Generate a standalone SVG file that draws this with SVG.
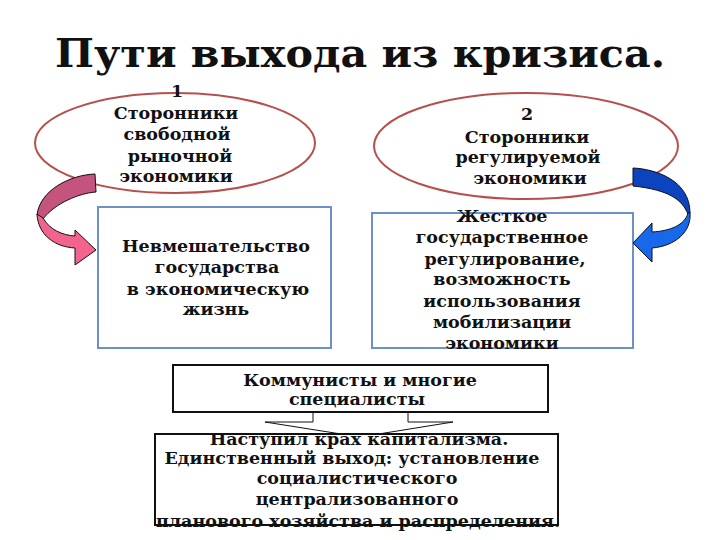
<svg xmlns="http://www.w3.org/2000/svg" width="720" height="540" viewBox="0 0 720 540">
<style>
text{font-family:"DejaVu Serif","Liberation Serif",serif;font-weight:bold;fill:#111;text-anchor:middle}
.t{font-size:17.5px}
.ell{fill:#fff;stroke:#b5504e;stroke-width:2}
.blu{fill:#fff;stroke:#6f8fc8;stroke-width:2}
.blk{fill:#fff;stroke:#111;stroke-width:2}
.arr{stroke:#111;stroke-width:1;stroke-linejoin:round}
</style>
<rect width="720" height="540" fill="#fff"/>
<text x="360" y="67" font-size="39" textLength="610" lengthAdjust="spacingAndGlyphs">Пути выхода из кризиса.</text>

<g id="node-free">
<ellipse class="ell" cx="175" cy="143" rx="140" ry="50"/>
</g>
<g id="node-reg">
<ellipse class="ell" cx="526" cy="146" rx="152" ry="53"/>
</g>
<g id="node-noninterv">
<rect class="blu" x="98" y="207" width="233" height="141"/>
</g>
<g id="node-hard">
<rect class="blu" x="372" y="213" width="261" height="135"/>
</g>

<g id="connectors">
<path class="arr" fill="#c4547e" d="M95,174 C70,175 40,190 37,215 L43,219 C55,203 80,193 96,192 Z"/>
<path class="arr" fill="#f2648e" d="M37,214 C38,235 55,247 75,248 L75,265 L96,250 L75,230 L75,236 C62,235 50,230 43,218 Z"/>
<path class="arr" fill="#0c44c0" d="M633,168 C655,169 690,180 690,213 L688,214 C682,200 670,190 633,186 Z"/>
<path class="arr" fill="#1868ec" d="M690,212 C692,232 675,246 652,248 L652,262 L633,243 L652,223 L652,232 C670,231 685,225 688,213 Z"/>
<path class="arr" fill="#fff" stroke-width="2" d="M313,412 L313,422 L265,422 L360,437 L453,422 L408,422 L408,412 Z"/>
</g>

<g id="node-communists">
<rect class="blk" x="173" y="365" width="375" height="47"/>
</g>
<g id="node-result">
<rect class="blk" x="155" y="434" width="403" height="91"/>
</g>

<g id="labels">
<text class="t" x="177" y="97">1</text>
<text class="t" x="176" y="119">Сторонники</text>
<text class="t" x="177" y="140">свободной</text>
<text class="t" x="180" y="162">рыночной</text>
<text class="t" x="176" y="182">экономики</text>

<text class="t" x="527" y="120">2</text>
<text class="t" x="527" y="143">Сторонники</text>
<text class="t" x="528" y="163">регулируемой</text>
<text class="t" x="530" y="184">экономики</text>

<text class="t" x="216" y="252">Невмешательство</text>
<text class="t" x="217" y="273">государства</text>
<text class="t" x="218" y="295">в экономическую</text>
<text class="t" x="216" y="315">жизнь</text>

<text class="t" x="502" y="222">Жесткое</text>
<text class="t" x="502" y="243">государственное</text>
<text class="t" x="505" y="265">регулирование,</text>
<text class="t" x="502" y="285">возможность</text>
<text class="t" x="502" y="307">использования</text>
<text class="t" x="502" y="328">мобилизации</text>
<text class="t" x="502" y="349">экономики</text>

<text class="t" x="360" y="386">Коммунисты и многие</text>
<text class="t" x="357" y="405">специалисты</text>

<text class="t" x="359" y="445">Наступил крах капитализма.</text>
<text class="t" x="352" y="464">Единственный выход: установление</text>
<text class="t" x="357" y="484">социалистического</text>
<text class="t" x="357" y="505">централизованного</text>
<text class="t" x="358" y="527">планового хозяйства и распределения.</text>
</g>
</svg>
